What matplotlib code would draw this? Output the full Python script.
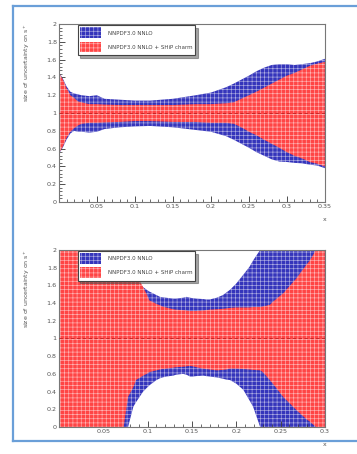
import matplotlib.pyplot as plt
from matplotlib.lines import Line2D
from matplotlib.patches import Patch
from matplotlib.ticker import MultipleLocator, FixedLocator, FixedFormatter

plt.rcParams['font.family'] = ['DejaVu Sans']
plt.rcParams['hatch.linewidth'] = 0.45

# Top panel: relative uncertainty bands, x in [0, 0.35]
x_top = [0.0, 0.005, 0.01, 0.015, 0.02, 0.025, 0.03, 0.04, 0.05, 0.06, 0.08, 0.1, 0.12,
         0.15, 0.18, 0.2, 0.22, 0.23, 0.24, 0.25, 0.26, 0.27, 0.28, 0.29, 0.3, 0.31,
         0.32, 0.33, 0.34, 0.35]
nnpdf_hi_top = [1.46, 1.39, 1.30, 1.24, 1.22, 1.21, 1.20, 1.19, 1.20, 1.16, 1.15, 1.14, 1.14,
                1.16, 1.20, 1.23, 1.29, 1.33, 1.375, 1.42, 1.47, 1.51, 1.54, 1.55, 1.55, 1.54,
                1.55, 1.56, 1.58, 1.61]
nnpdf_lo_top = [0.54, 0.61, 0.70, 0.77, 0.80, 0.79, 0.79, 0.78, 0.79, 0.82, 0.84, 0.85, 0.855,
                0.84, 0.81, 0.79, 0.74, 0.70, 0.655, 0.61, 0.56, 0.52, 0.48, 0.455, 0.45, 0.44,
                0.435, 0.42, 0.41, 0.38]
ship_hi_top = [1.45, 1.38, 1.28, 1.20, 1.17, 1.13, 1.12, 1.10, 1.10, 1.095, 1.09, 1.09, 1.09,
               1.09, 1.10, 1.10, 1.11, 1.12, 1.16, 1.20, 1.24, 1.285, 1.33, 1.375, 1.42, 1.45,
               1.49, 1.53, 1.555, 1.575]
ship_lo_top = [0.55, 0.62, 0.72, 0.79, 0.83, 0.86, 0.88, 0.89, 0.89, 0.895, 0.90, 0.91, 0.91,
               0.90, 0.90, 0.89, 0.89, 0.88, 0.84, 0.79, 0.75, 0.70, 0.655, 0.61, 0.56, 0.52,
               0.49, 0.45, 0.43, 0.40]

# Bottom panel, x in [0, 0.3]; values beyond [0, 2] run off the frame
x_bot = [0.0, 0.05, 0.073, 0.078, 0.084, 0.087, 0.095, 0.099, 0.102, 0.11, 0.114, 0.117,
         0.121, 0.129, 0.132, 0.14, 0.144, 0.148, 0.151, 0.155, 0.163, 0.166, 0.17, 0.178,
         0.185, 0.189, 0.193, 0.2, 0.208, 0.215, 0.219, 0.227, 0.23, 0.238, 0.242, 0.253,
         0.268, 0.279, 0.283, 0.29, 0.3]
nnpdf_hi_bot = [2.8, 2.5, 2.2, 2.0, 1.78, 1.66, 1.58, 1.55, 1.53, 1.49, 1.47, 1.465,
                1.46, 1.45, 1.45, 1.46, 1.47, 1.46, 1.455, 1.45, 1.445, 1.44, 1.44, 1.46,
                1.49, 1.52, 1.55, 1.62, 1.72, 1.81, 1.88, 2.0, 2.1, 2.3, 2.4, 2.6,
                2.8, 3.0, 3.0, 3.1, 3.2]
nnpdf_lo_bot = [-0.8, -0.5, -0.2, 0.0, 0.23, 0.28, 0.40, 0.44, 0.47, 0.53, 0.55, 0.56,
                0.57, 0.58, 0.59, 0.60, 0.59, 0.57, 0.57, 0.575, 0.58, 0.575, 0.57, 0.56,
                0.545, 0.535, 0.53, 0.49, 0.42, 0.30, 0.23, 0.0, -0.1, -0.3, -0.4, -0.6,
                -0.8, -1.0, -1.0, -1.1, -1.2]
ship_hi_bot = [2.6, 2.3, 2.0, 1.92, 1.80, 1.72, 1.58, 1.50, 1.43, 1.39, 1.375, 1.36,
               1.35, 1.33, 1.325, 1.32, 1.315, 1.31, 1.31, 1.31, 1.315, 1.32, 1.325, 1.33,
               1.335, 1.34, 1.345, 1.35, 1.35, 1.35, 1.355, 1.355, 1.36, 1.38, 1.42, 1.51,
               1.68, 1.83, 1.88, 2.0, 2.2]
ship_lo_bot = [-0.6, -0.3, 0.0, 0.34, 0.45, 0.53, 0.58, 0.60, 0.62, 0.64, 0.65, 0.655,
               0.66, 0.67, 0.675, 0.68, 0.685, 0.69, 0.685, 0.675, 0.66, 0.655, 0.65, 0.64,
               0.645, 0.65, 0.66, 0.66, 0.655, 0.65, 0.645, 0.64, 0.62, 0.53, 0.48, 0.34,
               0.19, 0.09, 0.06, 0.0, -0.2]

labels = ['NNPDF3.0 NNLO', 'NNPDF3.0 NNLO + SHiP charm']
blue = '#3535bb'
red = '#ff4545'
grid_white = (1, 1, 1, 0.6)
band_hatch = '++++'
y_ticks = [0, 0.2, 0.4, 0.6, 0.8, 1, 1.2, 1.4, 1.6, 1.8, 2]
y_ticklabels = ['0', '0.2', '0.4', '0.6', '0.8', '1', '1.2', '1.4', '1.6', '1.8', '2']
ylabel = 'size of uncertainty on s$^{+}$'


def draw_panel(ax, x, b_hi, b_lo, r_hi, r_lo, xmax, xticks, xticklabels):
    ax.fill_between(x, b_lo, b_hi, facecolor=blue, edgecolor=grid_white,
                    hatch=band_hatch, linewidth=0, zorder=1)
    ax.fill_between(x, r_lo, r_hi, facecolor=red, edgecolor=grid_white,
                    hatch=band_hatch, linewidth=0, zorder=2)
    ax.axhline(1, color='#c02020', linestyle=(0, (4, 3)), linewidth=0.6, zorder=3)
    ax.set_xlim(0, xmax)
    ax.set_ylim(0, 2)

    ax.xaxis.set_major_locator(FixedLocator(xticks))
    ax.xaxis.set_major_formatter(FixedFormatter(xticklabels))
    ax.xaxis.set_minor_locator(MultipleLocator(0.01))
    ax.yaxis.set_major_locator(FixedLocator(y_ticks))
    ax.yaxis.set_major_formatter(FixedFormatter(y_ticklabels))
    ax.yaxis.set_minor_locator(MultipleLocator(0.04))
    ax.tick_params(which='both', direction='in', top=False, right=False,
                   labelsize=4.6, labelcolor='#555555', color='#333333', pad=1.5)
    ax.tick_params(which='major', length=4.5, width=0.6)
    ax.tick_params(which='minor', length=2.2, width=0.5)
    for sp in ax.spines.values():
        sp.set_color('#777777')
        sp.set_linewidth(0.8)

    ax.set_ylabel(ylabel, fontsize=4.5, color='#555555', labelpad=2)
    ax.yaxis.set_label_coords(-0.1, 1.0)
    ax.yaxis.label.set_horizontalalignment('right')
    ax.text(1.0, -0.085, 'x', transform=ax.transAxes, ha='center', va='top',
            fontsize=4.5, color='#555555')

    handles = [Patch(facecolor=blue, edgecolor=grid_white, hatch=band_hatch, linewidth=0),
               Patch(facecolor=red, edgecolor=grid_white, hatch=band_hatch, linewidth=0)]
    leg = ax.legend(handles, labels, loc='upper left', bbox_to_anchor=(0.07, 0.995),
                    fontsize=4, frameon=True, fancybox=False, shadow=True,
                    handlelength=3.8, handleheight=2.6, borderpad=0.45,
                    labelspacing=0.6, handletextpad=1.2, borderaxespad=0)
    leg.get_frame().set_edgecolor('#444444')
    leg.get_frame().set_linewidth(0.8)
    leg.set_zorder(5)
    for t in leg.get_texts():
        t.set_color('#444444')


fig = plt.figure(figsize=(3.57, 4.54), dpi=100)
fig.patch.set_facecolor('white')

ax_top = fig.add_axes([0.165, 0.555, 0.745, 0.392])
draw_panel(ax_top, x_top, nnpdf_hi_top, nnpdf_lo_top, ship_hi_top, ship_lo_top, 0.35,
           [0.05, 0.1, 0.15, 0.2, 0.25, 0.3, 0.35],
           ['0.05', '0.1', '0.15', '0.2', '0.25', '0.3', '0.35'])

ax_bot = fig.add_axes([0.165, 0.0595, 0.745, 0.390])
draw_panel(ax_bot, x_bot, nnpdf_hi_bot, nnpdf_lo_bot, ship_hi_bot, ship_lo_bot, 0.3,
           [0.05, 0.1, 0.15, 0.2, 0.25, 0.3],
           ['0.05', '0.1', '0.15', '0.2', '0.25', '0.3'])

# light-blue frame around the page
frame_kw = dict(color='#6a9fd8', linewidth=1.6, transform=fig.transFigure)
fig.add_artist(Line2D([0.037, 0.037], [0.029, 0.987], **frame_kw))
fig.add_artist(Line2D([0.037, 1.0], [0.987, 0.987], **frame_kw))
fig.add_artist(Line2D([0.037, 1.0], [0.029, 0.029], **frame_kw))

fig.savefig('out.png', dpi=100, facecolor='white')
plt.close(fig)
